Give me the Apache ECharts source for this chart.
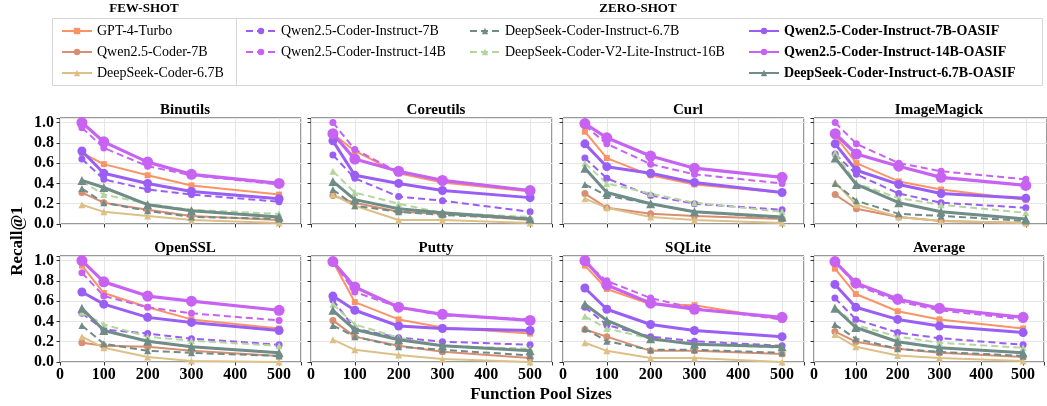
<!DOCTYPE html>
<html>
<head>
<meta charset="utf-8">
<script src="https://cdn.jsdelivr.net/npm/echarts@6/dist/echarts.min.js"></script>
<style>
  html, body { margin: 0; padding: 0; background: #fff; }
  #chart { width: 1047px; height: 406px; }
</style>
</head>
<body>
<div id="chart"></div>
<script>
// function pool sizes (x) and panel titles
const poolSizes = [50, 100, 200, 300, 500]
const panels = ['Binutils', 'Coreutils', 'Curl', 'ImageMagick', 'OpenSSL', 'Putty', 'SQLite', 'Average']

// Recall@1 per panel, one row per panel in the order above
// few-shot
const gpt4Turbo = [
  [0.70, 0.59, 0.48, 0.38, 0.29],
  [0.89, 0.72, 0.50, 0.41, 0.32],
  [0.91, 0.65, 0.48, 0.39, 0.31],
  [0.87, 0.60, 0.42, 0.34, 0.24],
  [0.95, 0.68, 0.54, 0.42, 0.33],
  [0.99, 0.59, 0.42, 0.34, 0.28],
  [0.95, 0.72, 0.57, 0.56, 0.42],
  [0.92, 0.67, 0.50, 0.42, 0.33]
]
const qwenCoder7B = [
  [0.31, 0.21, 0.14, 0.08, 0.04],
  [0.28, 0.21, 0.12, 0.10, 0.04],
  [0.30, 0.16, 0.10, 0.08, 0.05],
  [0.29, 0.15, 0.07, 0.03, 0.01],
  [0.19, 0.16, 0.15, 0.11, 0.06],
  [0.41, 0.25, 0.16, 0.10, 0.04],
  [0.32, 0.25, 0.11, 0.11, 0.08],
  [0.30, 0.20, 0.13, 0.09, 0.05]
]
const dsCoder67B = [
  [0.19, 0.12, 0.08, 0.04, 0.01],
  [0.29, 0.18, 0.04, 0.04, 0.01],
  [0.25, 0.16, 0.07, 0.04, 0.01],
  [0.41, 0.19, 0.07, 0.03, 0.01],
  [0.25, 0.14, 0.05, 0.01, 0.00],
  [0.22, 0.12, 0.07, 0.03, 0.00],
  [0.19, 0.11, 0.04, 0.04, 0.00],
  [0.27, 0.15, 0.065, 0.04, 0.01]
]
// zero-shot
const qwenInst7B = [
  [0.64, 0.44, 0.34, 0.29, 0.22],
  [0.68, 0.45, 0.27, 0.23, 0.12],
  [0.65, 0.45, 0.28, 0.20, 0.14],
  [0.69, 0.49, 0.30, 0.21, 0.16],
  [0.48, 0.32, 0.28, 0.23, 0.17],
  [0.61, 0.33, 0.24, 0.20, 0.17],
  [0.54, 0.365, 0.25, 0.205, 0.16],
  [0.63, 0.42, 0.29, 0.235, 0.17]
]
const qwenInst14B = [
  [0.95, 0.75, 0.57, 0.48, 0.39],
  [1.00, 0.735, 0.51, 0.43, 0.33],
  [0.97, 0.79, 0.59, 0.49, 0.40],
  [1.00, 0.79, 0.60, 0.52, 0.44],
  [0.88, 0.65, 0.54, 0.48, 0.41],
  [0.99, 0.69, 0.54, 0.46, 0.42],
  [0.98, 0.80, 0.63, 0.53, 0.42],
  [0.99, 0.76, 0.60, 0.51, 0.42]
]
const dsInst67B = [
  [0.35, 0.21, 0.13, 0.07, 0.05],
  [0.34, 0.18, 0.12, 0.09, 0.05],
  [0.39, 0.28, 0.20, 0.12, 0.06],
  [0.40, 0.23, 0.10, 0.08, 0.03],
  [0.36, 0.18, 0.11, 0.09, 0.06],
  [0.36, 0.25, 0.15, 0.12, 0.065],
  [0.33, 0.205, 0.12, 0.12, 0.09],
  [0.37, 0.23, 0.13, 0.10, 0.06]
]
const dsV2Lite16B = [
  [0.42, 0.29, 0.20, 0.14, 0.10],
  [0.52, 0.31, 0.20, 0.11, 0.07],
  [0.60, 0.40, 0.30, 0.21, 0.12],
  [0.70, 0.40, 0.255, 0.19, 0.11],
  [0.49, 0.37, 0.25, 0.21, 0.16],
  [0.57, 0.37, 0.24, 0.16, 0.13],
  [0.45, 0.33, 0.23, 0.18, 0.14],
  [0.54, 0.365, 0.25, 0.19, 0.14]
]
const qwen7BOasif = [
  [0.72, 0.50, 0.40, 0.32, 0.25],
  [0.82, 0.48, 0.40, 0.33, 0.26],
  [0.79, 0.565, 0.50, 0.41, 0.31],
  [0.79, 0.53, 0.39, 0.30, 0.255],
  [0.69, 0.57, 0.44, 0.39, 0.31],
  [0.65, 0.51, 0.355, 0.33, 0.31],
  [0.73, 0.52, 0.37, 0.31, 0.25],
  [0.765, 0.54, 0.42, 0.355, 0.29]
]
const qwen14BOasif = [
  [1.00, 0.81, 0.61, 0.49, 0.40],
  [0.89, 0.64, 0.52, 0.43, 0.33],
  [0.99, 0.85, 0.67, 0.55, 0.46],
  [0.89, 0.69, 0.57, 0.46, 0.38],
  [1.00, 0.79, 0.65, 0.60, 0.51],
  [0.99, 0.74, 0.54, 0.47, 0.41],
  [1.00, 0.76, 0.58, 0.52, 0.44],
  [0.99, 0.78, 0.62, 0.53, 0.44]
]
const dsInst67BOasif = [
  [0.43, 0.36, 0.19, 0.13, 0.07],
  [0.42, 0.24, 0.15, 0.11, 0.05],
  [0.55, 0.31, 0.20, 0.12, 0.07],
  [0.65, 0.39, 0.21, 0.12, 0.05],
  [0.53, 0.31, 0.205, 0.15, 0.09],
  [0.51, 0.32, 0.22, 0.16, 0.11],
  [0.57, 0.41, 0.23, 0.175, 0.15],
  [0.53, 0.34, 0.20, 0.14, 0.09]
]

const FONT = 'Liberation Serif'

// name, values, color, symbol, symbol size, line width, dashed
const models = [
  { name: 'GPT-4-Turbo', data: gpt4Turbo, color: '#FA9466', symbol: 'rect', size: 6, width: 2, dashed: false },
  { name: 'Qwen2.5-Coder-7B', data: qwenCoder7B, color: '#D98E72', symbol: 'circle', size: 7, width: 2, dashed: false },
  { name: 'DeepSeek-Coder-6.7B', data: dsCoder67B, color: '#DCC086', symbol: 'triangle', size: 7, width: 2, dashed: false },
  { name: 'Qwen2.5-Coder-Instruct-7B', data: qwenInst7B, color: '#9A5EF5', symbol: 'circle', size: 7, width: 2, dashed: true },
  { name: 'Qwen2.5-Coder-Instruct-14B', data: qwenInst14B, color: '#C862F2', symbol: 'circle', size: 7, width: 2, dashed: true },
  { name: 'DeepSeek-Coder-Instruct-6.7B', data: dsInst67B, color: '#6F8C86', symbol: 'triangle', size: 7, width: 2, dashed: true },
  { name: 'DeepSeek-Coder-V2-Lite-Instruct-16B', data: dsV2Lite16B, color: '#B3D69E', symbol: 'triangle', size: 7, width: 2, dashed: true },
  { name: 'Qwen2.5-Coder-Instruct-7B-OASIF', data: qwen7BOasif, color: '#9A5EF5', symbol: 'circle', size: 9, width: 3, dashed: false },
  { name: 'Qwen2.5-Coder-Instruct-14B-OASIF', data: qwen14BOasif, color: '#C862F2', symbol: 'circle', size: 11, width: 3.2, dashed: false },
  { name: 'DeepSeek-Coder-Instruct-6.7B-OASIF', data: dsInst67BOasif, color: '#6F8C86', symbol: 'triangle', size: 9, width: 3, dashed: false }
]

const colLeft = [60, 311, 563, 814]
const rowTop = [118, 256]
const gridW = 241
const gridH = 106

const grids = []
const xAxes = []
const yAxes = []
const titles = []
const series = []

panels.forEach((p, i) => {
  const r = Math.floor(i / 4)
  const c = i % 4
  grids.push({
    left: colLeft[c], top: rowTop[r], width: gridW, height: gridH,
    show: true, borderColor: '#333', borderWidth: 1, backgroundColor: 'transparent'
  })
  xAxes.push({
    type: 'value', gridIndex: i, min: 0, max: 550, interval: 100,
    axisLine: { show: false },
    axisTick: { show: true, length: 3.5, lineStyle: { color: '#333' } },
    splitLine: { show: true, lineStyle: { color: '#e6e6e6', width: 1 } },
    axisLabel: {
      show: r === 1, margin: 5,
      fontFamily: FONT, fontWeight: 'bold', fontSize: 16, color: '#000',
      formatter: v => (v % 100 === 0 ? String(v) : '')
    }
  })
  yAxes.push({
    type: 'value', gridIndex: i, min: 0, max: 1.045, interval: 0.2,
    axisLine: { show: false },
    axisTick: { show: true, length: 3.5, lineStyle: { color: '#333' } },
    splitLine: { show: true, lineStyle: { color: '#e6e6e6', width: 1 } },
    axisLabel: {
      show: c === 0, margin: 6,
      fontFamily: FONT, fontWeight: 'bold', fontSize: 16, color: '#000',
      formatter: v => (Math.abs(v * 5 - Math.round(v * 5)) < 1e-6 ? v.toFixed(1) : '')
    }
  })
  titles.push({
    text: p, left: colLeft[c] + 120, top: rowTop[r] - 20, textAlign: 'center',
    textStyle: { fontFamily: FONT, fontWeight: 'bold', fontSize: 15, color: '#000' }
  })
  models.forEach(m => {
    series.push({
      type: 'line', name: m.name, xAxisIndex: i, yAxisIndex: i,
      data: poolSizes.map((x, j) => [x, m.data[i][j]]),
      symbol: m.symbol, symbolSize: m.size,
      lineStyle: { color: m.color, width: m.width, type: m.dashed ? [7, 4] : 'solid' },
      itemStyle: { color: m.color },
      z: m.width > 2.5 ? 4 : 3
    })
  })
})

// legend columns
function legendCol(names, left, bold) {
  return {
    data: names, left: left, top: 24, orient: 'vertical',
    padding: 0, itemGap: 7, itemWidth: 30, itemHeight: 8, itemTextGap: 15,
    selectedMode: false,
    textStyle: { fontFamily: FONT, fontSize: 14, color: '#000', fontWeight: bold ? 'bold' : 'normal' }
  }
}

const option = {
  animation: false,
  backgroundColor: '#fff',
  title: titles,
  grid: grids,
  xAxis: xAxes,
  yAxis: yAxes,
  legend: [
    legendCol(models.slice(0, 3).map(m => m.name), 61, false),
    legendCol(models.slice(3, 5).map(m => m.name), 245, false),
    legendCol(models.slice(5, 7).map(m => m.name), 469, false),
    legendCol(models.slice(7, 10).map(m => m.name), 748, true)
  ],
  graphic: [
    { type: 'rect', shape: { x: 52.5, y: 18.5, width: 990, height: 67 }, style: { fill: 'none', stroke: '#d6d6d6', lineWidth: 1 } },
    { type: 'line', shape: { x1: 236.5, y1: 18.5, x2: 236.5, y2: 85.5 }, style: { stroke: '#d6d6d6', lineWidth: 1 } },
    { type: 'text', x: 144, y: 9, style: { text: 'FEW-SHOT', font: 'bold 13px "Liberation Serif"', fill: '#000', align: 'center', verticalAlign: 'middle' } },
    { type: 'text', x: 638, y: 9, style: { text: 'ZERO-SHOT', font: 'bold 13px "Liberation Serif"', fill: '#000', align: 'center', verticalAlign: 'middle' } },
    { type: 'text', x: 541, y: 395, style: { text: 'Function Pool Sizes', font: 'bold 17px "Liberation Serif"', fill: '#000', align: 'center', verticalAlign: 'middle' } },
    { type: 'text', x: 18, y: 241, rotation: Math.PI / 2, style: { text: 'Recall@1', font: 'bold 17px "Liberation Serif"', fill: '#000', align: 'center', verticalAlign: 'middle' } }
  ],
  series: series
}

const chart = echarts.init(document.getElementById('chart'), null, { renderer: 'canvas' })
chart.setOption(option)
</script>
</body>
</html>
